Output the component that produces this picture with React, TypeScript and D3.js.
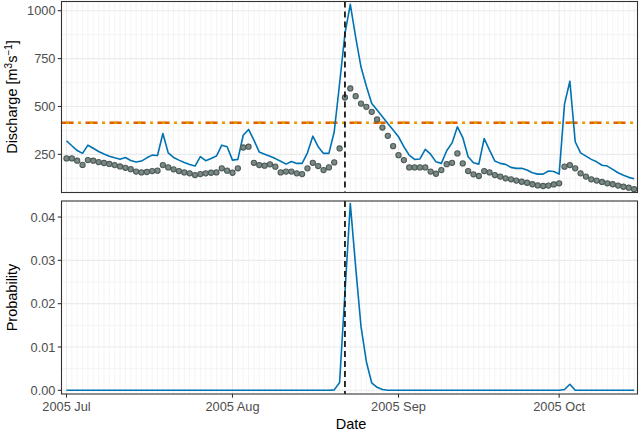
import React from "react";
import * as d3 from "d3";

const startDate = "2005-07-01";
const eventDate = "2005-08-22";
const threshold = 415;

const simulated = [
  321, 295, 270, 255, 298, 282, 265, 252, 240, 232, 225, 234, 218, 210, 215, 232, 246, 244, 359, 258,
  234, 220, 208, 197, 189, 238, 217, 229, 241, 298, 290, 220, 224, 350, 380, 324, 262, 251, 240, 228,
  214, 199, 213, 203, 203, 258, 345, 290, 255, 255, 368, 620, 880, 1033, 862, 706, 606, 516, 481, 446,
  411, 377, 342, 290, 246, 224, 226, 276, 251, 211, 203, 269, 310, 394, 338, 238, 206, 199, 333, 272,
  215, 203, 198, 182, 177, 177, 168, 154, 147, 147, 163, 161, 147, 512, 632, 316, 258, 241, 224, 211,
  193, 189, 172, 154, 141, 130, 123,
];

const observed = [
  229, 229, 217, 195, 220, 217, 210, 205, 200, 194, 187, 180, 173, 160, 156, 158, 163, 165, 194, 182,
  172, 163, 156, 151, 142, 147, 151, 154, 156, 177, 165, 154, 177, 286, 290, 206, 194, 191, 198, 186,
  156, 160, 160, 151, 147, 177, 206, 189, 168, 182, 208, 281, 547, 594, 554, 515, 498, 472, 432, 390,
  347, 293, 246, 220, 182, 182, 182, 182, 160, 149, 168, 199, 206, 255, 203, 163, 146, 137, 163, 156,
  142, 134, 125, 120, 113, 107, 102, 94, 88, 85, 87, 93, 99, 186, 194, 177, 151, 134, 120, 113,
  106, 99, 94, 87, 81, 76, 68,
];

const probability = [
  0, 0, 0, 0, 0, 0, 0, 0, 0, 0, 0, 0, 0, 0, 0, 0, 0, 0, 0, 0,
  0, 0, 0, 0, 0, 0, 0, 0, 0, 0, 0, 0, 0, 0, 0, 0, 0, 0, 0, 0,
  0, 0, 0, 0, 0, 0, 0, 0, 0, 0, 0.0001, 0.0018, 0.0225, 0.0431, 0.0285, 0.0147, 0.0066, 0.0017, 0.0007, 0.0002,
  0, 0, 0, 0, 0, 0, 0, 0, 0, 0, 0, 0, 0, 0, 0, 0, 0, 0, 0, 0,
  0, 0, 0, 0, 0, 0, 0, 0, 0, 0, 0, 0, 0, 0.0002, 0.0014, 0, 0, 0, 0, 0,
  0, 0, 0, 0, 0, 0, 0,
];

const xTickDates = ["2005-07-01", "2005-08-01", "2005-09-01", "2005-10-01"];
const xTickLabels = ["2005 Jul", "2005 Aug", "2005 Sep", "2005 Oct"];
const topTicks = [250, 500, 750, 1000];
const topMinor = [125, 375, 625, 875];
const bottomTicks = [0, 0.01, 0.02, 0.03, 0.04];
const bottomMinor = [0.005, 0.015, 0.025, 0.035];

const W = 640;
const H = 431;
const left = 61.5;
const right = 637.5;
const topPanel = { y0: 1.5, y1: 192.5 };
const botPanel = { y0: 201, y1: 394 };

const BLUE = "#0072B2";
const VERM = "#E06000";
const AMBER = "#E69F00";
const GRID = "#EBEBEB";
const TICKTXT = "#4D4D4D";
const FONT = "'Liberation Sans', Arial, Helvetica, sans-serif";

const DAY = 86400000;

export default function App() {
  const t0 = new Date(startDate + "T00:00:00Z");
  const dates = simulated.map((_, i) => d3.utcDay.offset(t0, i));
  const x = d3
    .scaleUtc()
    .domain([new Date(+t0 - 0.93 * DAY), new Date(+dates[dates.length - 1] + 0.63 * DAY)])
    .range([left, right]);
  const yTop = d3.scaleLinear().domain([51, 1048]).range([topPanel.y1, topPanel.y0]);
  const yBot = d3.scaleLinear().domain([-0.00085, 0.0437]).range([botPanel.y1, botPanel.y0]);

  const minorDays = d3.utcDay.range(x.domain()[0], x.domain()[1]);
  const majorDates = xTickDates.map((s) => new Date(s + "T00:00:00Z"));
  const evX = x(new Date(eventDate + "T00:00:00Z"));

  const simLine = d3
    .line<number>()
    .x((_, i) => x(dates[i]))
    .y((d) => yTop(d))(simulated) as string;
  const probLine = d3
    .line<number>()
    .x((_, i) => x(dates[i]))
    .y((d) => yBot(d))(probability) as string;

  const grid = (panel: { y0: number; y1: number }, yS: any, majors: number[], minors: number[]) => (
    <g>
      {minorDays.map((d, i) => (
        <line key={"vm" + i} x1={x(d)} x2={x(d)} y1={panel.y0} y2={panel.y1} stroke={GRID} strokeWidth={0.55} />
      ))}
      {minors.map((v, i) => (
        <line key={"hm" + i} x1={left} x2={right} y1={yS(v)} y2={yS(v)} stroke={GRID} strokeWidth={0.55} />
      ))}
      {majorDates.map((d, i) => (
        <line key={"vM" + i} x1={x(d)} x2={x(d)} y1={panel.y0} y2={panel.y1} stroke={GRID} strokeWidth={1.1} />
      ))}
      {majors.map((v, i) => (
        <line key={"hM" + i} x1={left} x2={right} y1={yS(v)} y2={yS(v)} stroke={GRID} strokeWidth={1.1} />
      ))}
    </g>
  );

  const yAxis = (yS: any, ticks: number[], fmt: (v: number) => string) => (
    <g>
      {ticks.map((v, i) => (
        <g key={i}>
          <line x1={left - 3.7} x2={left} y1={yS(v)} y2={yS(v)} stroke="#333333" strokeWidth={1.1} />
          <text x={left - 6} y={yS(v)} dy="0.36em" textAnchor="end" fontSize={12.8} fill={TICKTXT} fontFamily={FONT}>
            {fmt(v)}
          </text>
        </g>
      ))}
    </g>
  );

  return (
    <svg width={W} height={H} style={{ position: "absolute", left: 0, top: 0, background: "#fff" }}>
      <rect x={0} y={0} width={W} height={H} fill="#fff" />
      {/* Top panel */}
      {grid(topPanel, yTop, topTicks, topMinor)}
      <line x1={left} x2={right} y1={yTop(threshold)} y2={yTop(threshold)} stroke={VERM} strokeWidth={2.6} strokeDasharray="12 12" />
      <line x1={left} x2={right} y1={yTop(threshold)} y2={yTop(threshold)} stroke={AMBER} strokeWidth={2.6} strokeDasharray="3 9" strokeDashoffset={-4.5} />
      <path d={simLine} fill="none" stroke={BLUE} strokeWidth={1.6} strokeLinejoin="round" />
      {observed.map((v, i) => (
        <circle key={i} cx={x(dates[i])} cy={yTop(v)} r={2.6} fill="#7A8986" stroke="#4E5B58" strokeWidth={1.1} />
      ))}
      <line x1={evX} x2={evX} y1={topPanel.y0} y2={topPanel.y1} stroke="#1A1A1A" strokeWidth={1.8} strokeDasharray="6 4" />
      <rect x={left} y={topPanel.y0} width={right - left} height={topPanel.y1 - topPanel.y0} fill="none" stroke="#333333" strokeWidth={1.1} />
      {yAxis(yTop, topTicks, (v) => String(v))}

      {/* Bottom panel */}
      {grid(botPanel, yBot, bottomTicks, bottomMinor)}
      <path d={probLine} fill="none" stroke={BLUE} strokeWidth={1.6} strokeLinejoin="round" />
      <line x1={evX} x2={evX} y1={botPanel.y0} y2={botPanel.y1} stroke="#1A1A1A" strokeWidth={1.8} strokeDasharray="6 4" />
      <rect x={left} y={botPanel.y0} width={right - left} height={botPanel.y1 - botPanel.y0} fill="none" stroke="#333333" strokeWidth={1.1} />
      {yAxis(yBot, bottomTicks, (v) => v.toFixed(2))}
      {majorDates.map((d, i) => (
        <g key={i}>
          <line x1={x(d)} x2={x(d)} y1={botPanel.y1} y2={botPanel.y1 + 3.7} stroke="#333333" strokeWidth={1.1} />
          <text x={x(d)} y={411} textAnchor="middle" fontSize={12.8} fill={TICKTXT} fontFamily={FONT}>
            {xTickLabels[i]}
          </text>
        </g>
      ))}

      {/* Titles */}
      <text x={351} y={429} textAnchor="middle" fontSize={14.5} fill="#000" fontFamily={FONT}>
        Date
      </text>
      <text transform={`translate(16.5, ${(topPanel.y0 + topPanel.y1) / 2}) rotate(-90)`} textAnchor="middle" fontSize={14.5} fill="#000" fontFamily={FONT}>
        Discharge [m<tspan dy="-5" fontSize={10}>3</tspan>
        <tspan dy="5">s</tspan>
        <tspan dy="-5" fontSize={10}>−1</tspan>
        <tspan dy="5">]</tspan>
      </text>
      <text transform={`translate(16.5, ${(botPanel.y0 + botPanel.y1) / 2}) rotate(-90)`} textAnchor="middle" fontSize={14.5} fill="#000" fontFamily={FONT}>
        Probability
      </text>
    </svg>
  );
}
